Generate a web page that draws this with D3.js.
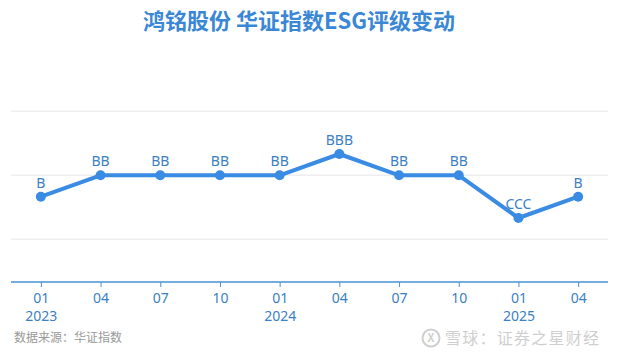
<!DOCTYPE html>
<html>
<head>
<meta charset="utf-8">
<script src="https://cdn.jsdelivr.net/npm/d3@7"></script>
<style>
  body { margin: 0; background: #fff; }
  svg { display: block; font-family: 'Noto Sans CJK SC', 'Noto Sans', sans-serif; }
</style>
</head>
<body>
<div id="chart"></div>
<script>
// rating scale, low to high
const levels = ['C', 'CC', 'CCC', 'B', 'BB', 'BBB', 'A', 'AA', 'AAA'];

const months = ['01', '04', '07', '10', '01', '04', '07', '10', '01', '04'];
const years = ['2023', '', '', '', '2024', '', '', '', '2025', ''];
const ratings = ['B', 'BB', 'BB', 'BB', 'BB', 'BBB', 'BB', 'BB', 'CCC', 'B'];
const gridLevels = [2, 5, 8];

const width = 618, height = 355;
const blue = '#3a8be3';
const textBlue = '#3b7fc4';

const svg = d3.select('#chart').append('svg')
    .attr('width', width)
    .attr('height', height);

const data = months.map((m, i) => ({
    k: i,
    rating: ratings[i],
    v: levels.indexOf(ratings[i]) + 1
}));

const x = d3.scalePoint()
    .domain(d3.range(months.length))
    .range([11, 608])
    .padding(0.5);

const y = d3.scaleLinear()
    .domain([0, 9])
    .range([282, 90]);

// title
svg.append('text')
    .attr('x', 299)
    .attr('y', 29)
    .attr('text-anchor', 'middle')
    .attr('font-size', 22)
    .attr('font-weight', 'bold')
    .attr('fill', '#3a87d6')
    .text('鸿铭股份 华证指数ESG评级变动');

// gridlines
svg.append('g')
    .selectAll('line')
    .data(gridLevels)
    .join('line')
    .attr('x1', 11)
    .attr('x2', 608)
    .attr('y1', d => y(d))
    .attr('y2', d => y(d))
    .attr('stroke', '#eeeeee')
    .attr('stroke-width', 1.5);

// x axis
const axis = svg.append('g')
    .attr('transform', `translate(0, ${y(0)})`)
    .call(d3.axisBottom(x).tickSize(5).tickSizeOuter(0).tickFormat(i => months[i]));

axis.select('.domain')
    .attr('stroke', '#4a90d2')
    .attr('stroke-width', 1.5)
    .attr('d', `M11,0H608`);
axis.selectAll('.tick line').attr('stroke', '#4a90d2');
axis.selectAll('.tick text')
    .attr('fill', textBlue)
    .attr('font-size', 14)
    .attr('font-family', "'Noto Sans', sans-serif")
    .attr('dy', null)
    .attr('y', 21);

axis.selectAll('.tick')
    .append('text')
    .attr('fill', textBlue)
    .attr('font-size', 14)
    .attr('font-family', "'Noto Sans', sans-serif")
    .attr('y', 39)
    .text(i => years[i]);

// line
const line = d3.line()
    .x(d => x(d.k))
    .y(d => y(d.v));

svg.append('path')
    .datum(data)
    .attr('fill', 'none')
    .attr('stroke', blue)
    .attr('stroke-width', 4)
    .attr('stroke-linejoin', 'round')
    .attr('d', line);

svg.append('g')
    .selectAll('circle')
    .data(data)
    .join('circle')
    .attr('cx', d => x(d.k))
    .attr('cy', d => y(d.v))
    .attr('r', 5)
    .attr('fill', blue);

svg.append('g')
    .selectAll('text')
    .data(data)
    .join('text')
    .attr('x', d => x(d.k))
    .attr('y', d => y(d.v) - 9)
    .attr('text-anchor', 'middle')
    .attr('font-size', 14)
    .attr('font-family', "'Noto Sans', sans-serif")
    .attr('fill', textBlue)
    .text(d => d.rating);

// source
svg.append('text')
    .attr('x', 14)
    .attr('y', 342)
    .attr('font-size', 12)
    .attr('fill', '#999')
    .text('数据来源：华证指数');

// watermark
const wm = svg.append('g');
wm.append('circle')
    .attr('cx', 431)
    .attr('cy', 338)
    .attr('r', 8.5)
    .attr('fill', 'none')
    .attr('stroke', '#cfcfcf')
    .attr('stroke-width', 2);
wm.append('text')
    .attr('x', 431)
    .attr('y', 342)
    .attr('text-anchor', 'middle')
    .attr('font-size', 11)
    .attr('font-weight', 'bold')
    .attr('fill', '#cfcfcf')
    .text('X');
wm.append('text')
    .attr('x', 445)
    .attr('y', 344)
    .attr('font-size', 16)
    .attr('textLength', 154)
    .attr('fill', '#cfcfcf')
    .text('雪球：证券之星财经');
</script>
</body>
</html>
